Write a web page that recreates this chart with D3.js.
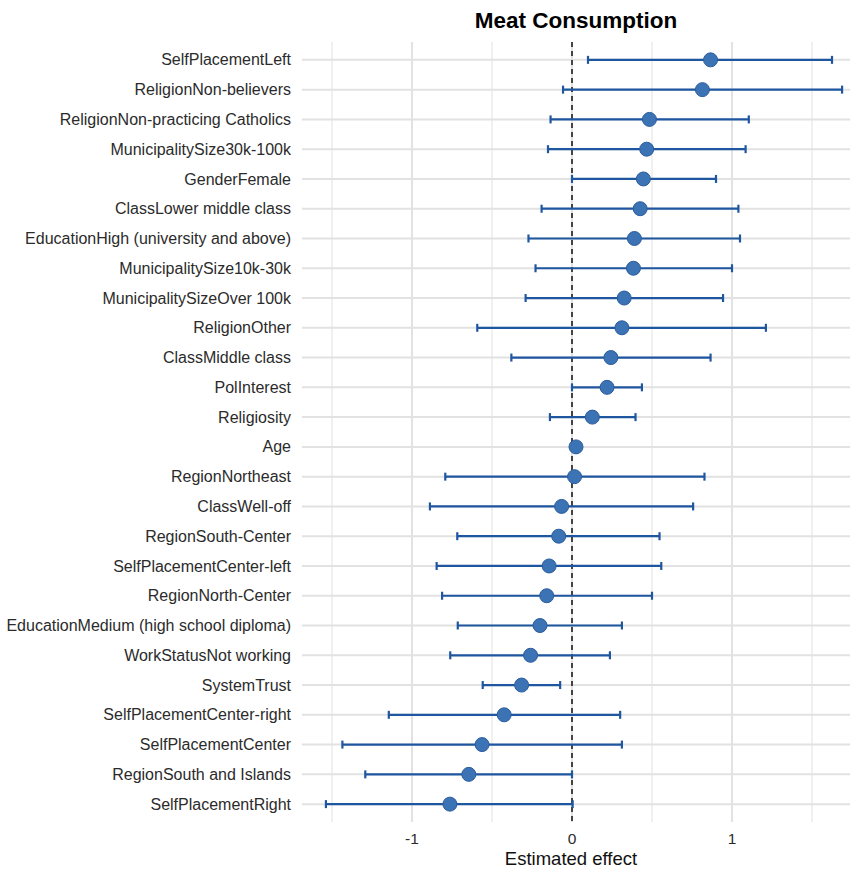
<!DOCTYPE html>
<html lang="en">

<head>
    <meta charset="UTF-8">
    <title>Meat Consumption</title>
    <style>
        body { margin: 0; background: #fff; }
        text { font-family: "Liberation Sans", Arial, sans-serif; }
    </style>
</head>

<body>
    <script src="https://cdn.jsdelivr.net/npm/d3@7"></script>
    <script>
        // terms, top to bottom
        const terms = [
            'SelfPlacementLeft', 'ReligionNon-believers', 'ReligionNon-practicing Catholics',
            'MunicipalitySize30k-100k', 'GenderFemale', 'ClassLower middle class',
            'EducationHigh (university and above)', 'MunicipalitySize10k-30k', 'MunicipalitySizeOver 100k',
            'ReligionOther', 'ClassMiddle class', 'PolInterest', 'Religiosity', 'Age',
            'RegionNortheast', 'ClassWell-off', 'RegionSouth-Center', 'SelfPlacementCenter-left',
            'RegionNorth-Center', 'EducationMedium (high school diploma)', 'WorkStatusNot working',
            'SystemTrust', 'SelfPlacementCenter-right', 'SelfPlacementCenter',
            'RegionSouth and Islands', 'SelfPlacementRight'
        ];
        const estimate = [
            0.866, 0.815, 0.484, 0.467, 0.446, 0.426, 0.39, 0.384, 0.326, 0.312, 0.243, 0.219, 0.127, 0.025,
            0.016, -0.065, -0.083, -0.143, -0.158, -0.2, -0.259, -0.315, -0.424, -0.562, -0.645, -0.763
        ];
        const lower = [
            0.10, -0.056, -0.134, -0.15, 0.0, -0.19, -0.272, -0.228, -0.29, -0.592, -0.379, 0.0, -0.138, 0.02,
            -0.792, -0.888, -0.717, -0.846, -0.812, -0.714, -0.761, -0.558, -1.145, -1.435, -1.292, -1.538
        ];
        const upper = [
            1.625, 1.688, 1.105, 1.085, 0.90, 1.04, 1.05, 1.0, 0.944, 1.212, 0.866, 0.437, 0.397, 0.03,
            0.828, 0.757, 0.547, 0.558, 0.5, 0.312, 0.237, -0.074, 0.301, 0.312, 0.0, 0.004
        ];
        const xTicks = [-1, 0, 1];
        const xMinor = [-1.5, -0.5, 0.5, 1.5];

        const rows = terms.map((t, i) => ({ term: t, est: estimate[i], lo: lower[i], hi: upper[i] }));

        const w = 858;
        const h = 870;
        const pLeft = 302, pRight = 850, pTop = 42, pBottom = 822;

        const xScale = d3.scaleLinear()
            .domain([-1.6875, 1.7375])
            .range([pLeft, pRight]);

        const yScale = d3.scalePoint()
            .domain(terms)
            .range([pTop, pBottom])
            .padding(0.6);

        const svg = d3.select('body')
            .append('svg')
            .attr('width', w)
            .attr('height', h);

        // grid
        svg.selectAll('line.minor')
            .data(xMinor)
            .enter()
            .append('line')
            .attr('class', 'minor')
            .attr('x1', d => xScale(d)).attr('x2', d => xScale(d))
            .attr('y1', pTop).attr('y2', pBottom)
            .attr('stroke', '#ebebeb')
            .attr('stroke-width', 1.5);

        svg.selectAll('line.major')
            .data(xTicks)
            .enter()
            .append('line')
            .attr('class', 'major')
            .attr('x1', d => xScale(d)).attr('x2', d => xScale(d))
            .attr('y1', pTop).attr('y2', pBottom)
            .attr('stroke', '#e2e2e2')
            .attr('stroke-width', 2);

        svg.selectAll('line.hgrid')
            .data(terms)
            .enter()
            .append('line')
            .attr('class', 'hgrid')
            .attr('x1', pLeft).attr('x2', pRight)
            .attr('y1', d => yScale(d)).attr('y2', d => yScale(d))
            .attr('stroke', '#e2e2e2')
            .attr('stroke-width', 2);

        // zero line
        svg.append('line')
            .attr('x1', xScale(0)).attr('x2', xScale(0))
            .attr('y1', pTop).attr('y2', pBottom)
            .attr('stroke', '#111')
            .attr('stroke-width', 1.5)
            .attr('stroke-dasharray', '5,4');

        // error bars
        const bars = svg.selectAll('g.bar')
            .data(rows.filter(d => d.hi - d.lo > 0.05))
            .enter()
            .append('g')
            .attr('class', 'bar')
            .attr('stroke', '#1f56a0')
            .attr('stroke-width', 2.2);

        bars.append('line')
            .attr('x1', d => xScale(d.lo)).attr('x2', d => xScale(d.hi))
            .attr('y1', d => yScale(d.term)).attr('y2', d => yScale(d.term));
        bars.append('line')
            .attr('x1', d => xScale(d.lo)).attr('x2', d => xScale(d.lo))
            .attr('y1', d => yScale(d.term) - 4).attr('y2', d => yScale(d.term) + 4);
        bars.append('line')
            .attr('x1', d => xScale(d.hi)).attr('x2', d => xScale(d.hi))
            .attr('y1', d => yScale(d.term) - 4).attr('y2', d => yScale(d.term) + 4);

        // points
        svg.selectAll('circle')
            .data(rows)
            .enter()
            .append('circle')
            .attr('cx', d => xScale(d.est))
            .attr('cy', d => yScale(d.term))
            .attr('r', 7)
            .attr('fill', '#3b73b4')
            .attr('stroke', '#2a5c9e')
            .attr('stroke-width', 1);

        // y labels
        svg.selectAll('text.ylab')
            .data(terms)
            .enter()
            .append('text')
            .attr('class', 'ylab')
            .text(d => d)
            .attr('x', 291)
            .attr('y', d => yScale(d))
            .attr('dy', '0.35em')
            .attr('text-anchor', 'end')
            .attr('font-size', 16)
            .attr('fill', '#2b2b2b');

        // x tick labels
        svg.selectAll('text.xlab')
            .data(xTicks)
            .enter()
            .append('text')
            .attr('class', 'xlab')
            .text(d => d === -1 ? '-1' : d)
            .attr('x', d => xScale(d))
            .attr('y', 844)
            .attr('text-anchor', 'middle')
            .attr('font-size', 15.5)
            .attr('fill', '#2b2b2b');

        svg.append('text')
            .text('Estimated effect')
            .attr('x', (pLeft + pRight) / 2 - 5)
            .attr('y', 865)
            .attr('text-anchor', 'middle')
            .attr('font-size', 18.5)
            .attr('fill', '#111');

        svg.append('text')
            .text('Meat Consumption')
            .attr('x', (pLeft + pRight) / 2)
            .attr('y', 28)
            .attr('text-anchor', 'middle')
            .attr('font-size', 22.5)
            .attr('font-weight', 'bold')
            .attr('fill', '#000');
    </script>
</body>

</html>
